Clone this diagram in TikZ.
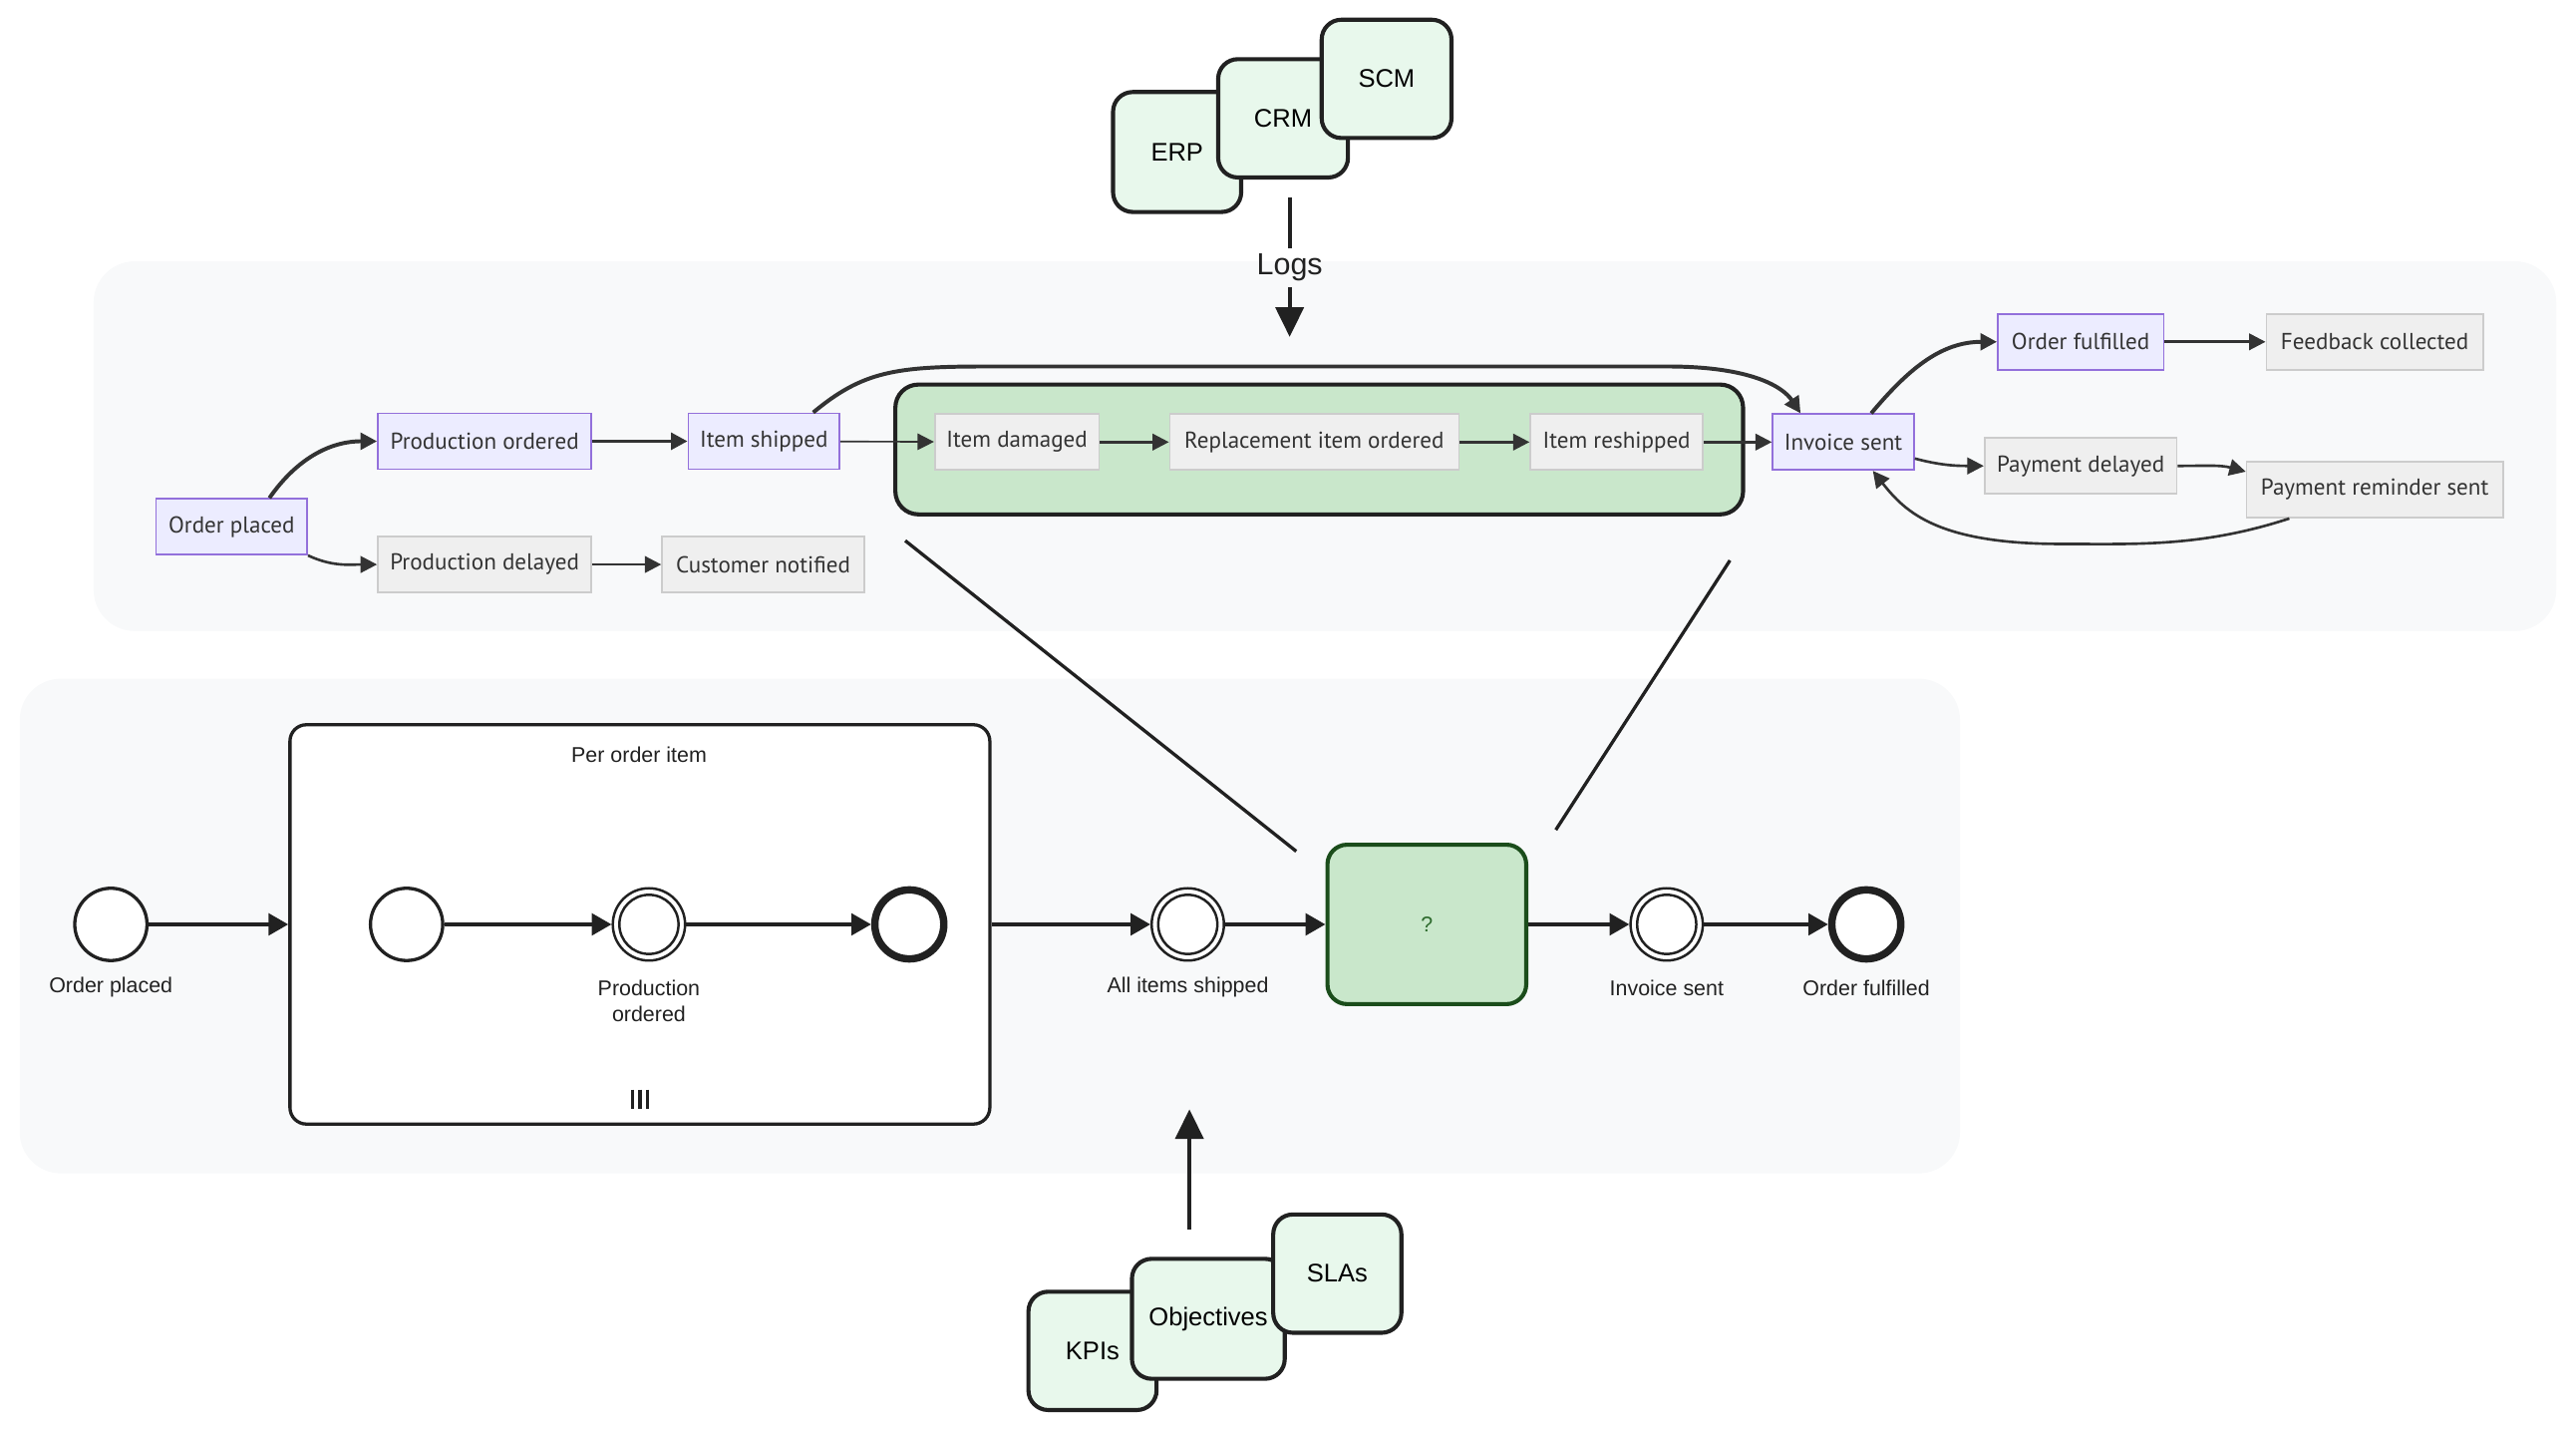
\documentclass[tikz,border=0pt]{standalone}
\usepackage{fontspec}
\setmainfont{Liberation Sans}
\newfontfamily\flowfont{PT Sans}
\usepackage{xcolor}
\usepackage{tikz}
\usetikzlibrary{arrows.meta}

\definecolor{panelbg}{HTML}{F8F9FA}
\definecolor{inkgray}{HTML}{333333}
\definecolor{purplefill}{HTML}{ECECFF}
\definecolor{purpleline}{HTML}{9370DB}
\definecolor{grayfill}{HTML}{EFEFEF}
\definecolor{grayline}{HTML}{CCCCCC}
\definecolor{clustergreen}{HTML}{C9E7CB}
\definecolor{sysgreen}{HTML}{E8F8EC}
\definecolor{taskline}{HTML}{1B4D1B}
\definecolor{tasktext}{HTML}{2E6B2E}

\begin{document}
\begin{tikzpicture}[x=1pt,y=-1pt,
  panel/.style={fill=panelbg,rounded corners=25pt},
  evt/.style={draw=purpleline,fill=purplefill,line width=1pt,inner sep=0pt,minimum height=34pt,text=inkgray,font=\flowfont\fontsize{14}{16}\selectfont},
  side/.style={evt,draw=grayline,fill=grayfill},
  sysbox/.style={draw=black!87,fill=sysgreen,line width=2.5pt,rounded corners=12pt,inner sep=0pt,font=\fontsize{15.5}{18}\selectfont},
  tip/.style={-{Triangle[length=10pt,width=10pt]}},
  heavy/.style={tip,draw=inkgray,line width=2.4pt},
  medium/.style={tip,draw=inkgray,line width=1.6pt},
  light/.style={tip,draw=inkgray,line width=1pt},
  bigtip/.style={-{Triangle[length=18pt,width=17pt]},draw=black!87,line width=2.4pt},
  bflow/.style={-{Triangle[length=12pt,width=13pt]},draw=black!87,line width=2.4pt},
  ev/.style={circle,draw=black!87,fill=white,line width=2pt,minimum size=44pt,inner sep=0pt},
  endev/.style={ev,line width=4.5pt,minimum size=42pt},
  lbl/.style={font=\fontsize{13}{16}\selectfont,text=black!87,align=center}]
\useasboundingbox (0,0) rectangle (1568,869.6);

% panels
\fill[panel] (57,159) rectangle (1556,384);
\fill[panel] (12,413) rectangle (1193,714);

% source systems
\node[sysbox,minimum width=78pt,minimum height=73pt] (erp) at (716.5,92.5) {ERP};
\node[sysbox,minimum width=79pt,minimum height=72pt] (crm) at (781,72) {CRM};
\node[sysbox,minimum width=79pt,minimum height=72pt] (scm) at (844,48) {SCM};
\coordinate (logsrc) at (785,120);
\coordinate (logend) at (785,205);
\node[font=\fontsize{18.5}{20}\selectfont,text=black!87] (logs) at (785,163) {Logs};
\draw[line width=2.4pt,draw=black!87] (logsrc) -- (logs.north);
\draw[bigtip] (logs.south) -- (logend);

% event log
\draw[draw=black!87,fill=clustergreen,line width=2.5pt,rounded corners=14pt] (545,234) rectangle (1061,313);
\node[evt,minimum width=92pt] (op) at (141,320.5) {Order placed};
\node[evt,minimum width=130pt] (po) at (295,268.5) {Production ordered};
\node[evt,minimum width=92pt] (is) at (465,268.5) {Item shipped};
\node[side,minimum width=130pt] (pd) at (295,343.5) {Production delayed};
\node[side,minimum width=123pt] (cn) at (464.5,343.5) {Customer notified};
\node[side,minimum width=100pt] (id) at (619,269) {Item damaged};
\node[side,minimum width=176pt] (ri) at (800,269) {Replacement item ordered};
\node[side,minimum width=105pt] (rs) at (984,269) {Item reshipped};
\node[evt,minimum width=86pt] (inv) at (1122,269) {Invoice sent};
\node[evt,minimum width=101pt] (of) at (1266.5,208) {Order fulfilled};
\node[side,minimum width=132pt] (fc) at (1445.5,208) {Feedback collected};
\node[side,minimum width=117pt] (pdl) at (1266.5,283.5) {Payment delayed};
\node[side,minimum width=156pt] (prs) at (1445.5,298) {Payment reminder sent};

\draw[heavy] ([xshift=23pt]op.north) to[out=55,in=180] (po.west);
\draw[medium] (op.south east) to[out=-25,in=180] (pd.west);
\draw[heavy] (po) -- (is);
\draw[medium] (pd) -- (cn);
\draw[light] (is) -- (id);
\draw[medium] (id) -- (ri);
\draw[medium] (ri) -- (rs);
\draw[medium] (rs) -- (inv);
\draw[heavy] ([xshift=30pt]is.north) .. controls (525,226) and (545,223) .. (600,223) -- (1015,223) .. controls (1065,223) and (1085,235) .. ([xshift=-26pt]inv.north);
\draw[heavy] ([xshift=17pt]inv.north) to[out=50,in=180] (of.west);
\draw[medium] (of) -- (fc);
\draw[medium] ([yshift=-10pt]inv.east) to[out=-15,in=180] (pdl.west);
\draw[medium] (pdl.east) to[out=0,in=165] ([yshift=11pt]prs.west);
\draw[medium] ([xshift=-52pt]prs.south) .. controls (1340,333) and (1300,331) .. (1255,331) .. controls (1180,331) and (1160,312) .. ([xshift=18pt]inv.south);

% process model
\node[ev] (start) at (67.5,562.5) {};
\node[lbl] at (67.5,601) {Order placed};
\node[draw=black!87,fill=white,line width=2pt,rounded corners=10pt,minimum width=426pt,minimum height=243pt,inner sep=0pt] (sub) at (389.5,562.5) {};
\node[lbl] at (389,459) {Per order item};
\draw[line width=2pt,draw=black!87] (385,663) -- (385,675) (389.5,663) -- (389.5,675) (394,663) -- (394,675);
\node[ev] (substart) at (247.5,562.5) {};
\node[ev,line width=1.5pt] (prodord) at (395,562.5) {};
\draw[line width=1.5pt,draw=black!87] (prodord.center) circle (18);
\node[lbl] at (395,609) {Production\\ordered};
\node[endev] (subend) at (553.5,562.5) {};
\node[ev,line width=1.5pt] (allship) at (723,562.5) {};
\draw[line width=1.5pt,draw=black!87] (allship.center) circle (18);
\node[lbl] at (723,601) {All items shipped};
\node[draw=taskline,fill=clustergreen,line width=2.5pt,rounded corners=12pt,minimum width=121pt,minimum height=97pt,inner sep=0pt,text=tasktext,font=\fontsize{13}{16}\selectfont] (qtask) at (868.5,562.5) {?};
\node[ev,line width=1.5pt] (invsent) at (1014.5,562.5) {};
\draw[line width=1.5pt,draw=black!87] (invsent.center) circle (18);
\node[lbl] at (1014.5,601) {Invoice sent};
\node[endev] (fulfil) at (1136,562.5) {};
\node[lbl] at (1136,601) {Order fulfilled};

\draw[bflow] (start) -- (sub);
\draw[bflow] (substart) -- (prodord);
\draw[bflow] (prodord) -- (subend);
\draw[bflow] (sub) -- (allship);
\draw[bflow] (allship) -- (qtask);
\draw[bflow] (qtask) -- (invsent);
\draw[bflow] (invsent) -- (fulfil);

% mapping lines
\coordinate (mapa) at (551,329);
\coordinate (mapb) at (789,518);
\coordinate (mapc) at (1053,341);
\coordinate (mapd) at (947,505);
\draw[line width=2pt,draw=black!87] (mapa) -- (mapb);
\draw[line width=2pt,draw=black!87] (mapc) -- (mapd);

% goals
\node[sysbox,minimum width=78pt,minimum height=72pt] (kpis) at (665,822) {KPIs};
\node[sysbox,minimum width=93pt,minimum height=73pt] (obj) at (735.5,802.5) {Objectives};
\node[sysbox,minimum width=78pt,minimum height=72pt] (slas) at (814,775) {SLAs};
\coordinate (goalsrc) at (724,748);
\coordinate (goalend) at (724,675);
\draw[bigtip] (goalsrc) -- (goalend);
\end{tikzpicture}
\end{document}
